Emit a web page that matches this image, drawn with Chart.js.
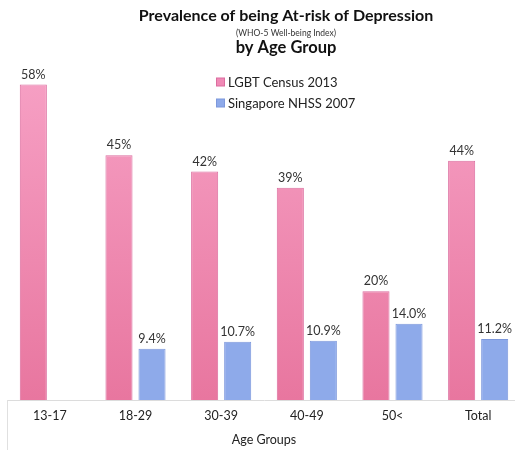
<!DOCTYPE html>
<html>
<head>
<meta charset="utf-8">
<script src="https://cdn.jsdelivr.net/npm/chart.js@4"></script>
<style>
html,body{margin:0;padding:0;background:#fff;overflow:hidden;width:515px;height:450px;}
#wrap{position:absolute;left:0;top:0;width:524px;height:450px;}
</style>
</head>
<body>
<div id="wrap"><canvas id="c" width="524" height="450"></canvas></div>
<script>
const categories = ['13-17', '18-29', '30-39', '40-49', '50<', 'Total'];
const lgbtValues = [58, 45, 42, 39, 20, 44];
const nhssValues = [null, 9.4, 10.7, 10.9, 14.0, 11.2];
const seriesLabels = ['LGBT Census 2013', 'Singapore NHSS 2007'];
const titleText = 'Prevalence of being At-risk of Depression';
const subtitleText = '(WHO-5 Well-being Index)';
const title2Text = 'by Age Group';
const xAxisTitle = 'Age Groups';

const FONT = 'Lato, "DejaVu Sans", sans-serif';
const pinkBorder = '#dc6d9f';
const pinkSolid = '#f08ab6';
const blueFill = '#8eaaea';
const blueBorder = '#7d98dc';

function pinkGradient(ctx) {
  const chart = ctx.chart;
  const a = chart.chartArea;
  if (!a) return pinkSolid;
  const g = chart.ctx.createLinearGradient(0, a.top, 0, a.bottom);
  g.addColorStop(0, '#f7a2c6');
  g.addColorStop(1, '#e8769f');
  return g;
}

const titlePlugin = {
  id: 'titles',
  afterDraw(chart) {
    const c = chart.ctx;
    const cx = 286;
    c.save();
    c.fillStyle = '#111';
    c.textAlign = 'center';
    c.textBaseline = 'middle';
    c.font = 'bold 16px ' + FONT;
    c.fillText(titleText, cx, 16);
    c.fillStyle = '#333';
    c.font = '8.5px ' + FONT;
    c.fillText(subtitleText, cx, 33);
    c.fillStyle = '#111';
    c.font = 'bold 16.5px ' + FONT;
    c.fillText(title2Text, cx, 48);

    // legend
    c.textAlign = 'left';
    c.font = '13px ' + FONT;
    const items = [
      {label: chart.data.datasets[0].label, fill: pinkSolid, stroke: pinkBorder, y: 82},
      {label: chart.data.datasets[1].label, fill: blueFill, stroke: blueBorder, y: 103}
    ];
    items.forEach(it => {
      c.fillStyle = it.fill;
      c.strokeStyle = it.stroke;
      c.lineWidth = 1;
      c.fillRect(216.5, it.y - 4, 8, 8);
      c.strokeRect(216.5, it.y - 4, 8, 8);
      c.fillStyle = '#222';
      c.fillText(it.label, 228, it.y + 1);
    });

    // left frame line
    const a = chart.chartArea;
    c.strokeStyle = '#e0e0e0';
    c.beginPath();
    c.moveTo(a.left + 0.5, a.bottom);
    c.lineTo(a.left + 0.5, 450);
    c.stroke();
    c.restore();
  }
};

const valueLabels = {
  id: 'valueLabels',
  afterDatasetsDraw(chart) {
    const c = chart.ctx;
    c.save();
    c.fillStyle = '#333';
    c.font = '12.5px ' + FONT;
    c.textAlign = 'center';
    c.textBaseline = 'middle';
    chart.data.datasets.forEach((ds, di) => {
      const meta = chart.getDatasetMeta(di);
      meta.data.forEach((bar, i) => {
        const v = ds.data[i];
        if (v === null || v === undefined) return;
        const txt = di === 0 ? Math.round(v) + '%' : v.toFixed(1) + '%';
        c.fillText(txt, bar.x, bar.y - 10);
      });
    });
    c.restore();
  }
};

new Chart(document.getElementById('c'), {
  type: 'bar',
  data: {
    labels: categories,
    datasets: [
      {
        label: seriesLabels[0],
        data: lgbtValues,
        backgroundColor: pinkGradient,
        borderColor: pinkBorder,
        borderWidth: 1,
        categoryPercentage: 0.771,
        barPercentage: 0.82
      },
      {
        label: seriesLabels[1],
        data: nhssValues,
        backgroundColor: blueFill,
        borderColor: blueBorder,
        borderWidth: 1,
        categoryPercentage: 0.771,
        barPercentage: 0.82
      }
    ]
  },
  options: {
    responsive: false,
    animation: false,
    layout: {padding: {top: 60, left: 7, right: 3, bottom: 2.5}},
    plugins: {
      legend: {display: false},
      title: {display: false},
      tooltip: {enabled: false}
    },
    scales: {
      y: {
        display: false,
        min: 0,
        max: 62.5
      },
      x: {
        grid: {display: false, drawTicks: false},
        border: {display: true, color: '#dcdcdc', width: 1},
        ticks: {
          color: '#222',
          padding: 8,
          font: {family: FONT, size: 12.5}
        },
        title: {
          display: true,
          text: xAxisTitle,
          color: '#222',
          font: {family: FONT, size: 12.5},
          padding: {top: 1.5, bottom: 0}
        }
      }
    }
  },
  plugins: [titlePlugin, valueLabels]
});
</script>
</body>
</html>
